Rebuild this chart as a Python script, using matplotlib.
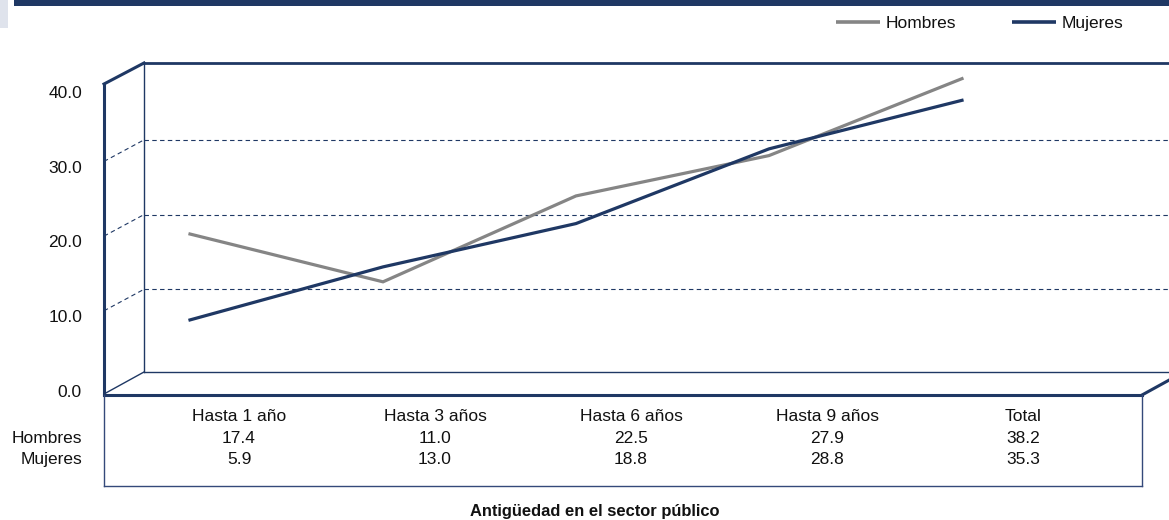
import matplotlib
matplotlib.use("Agg")
import matplotlib.pyplot as plt
from matplotlib.patches import Rectangle

plt.rcParams['font.family'] = ['Liberation Sans', 'DejaVu Sans']

# ---- data -------------------------------------------------------------
categories = ["Hasta 1 año", "Hasta 3 años", "Hasta 6 años", "Hasta 9 años", "Total"]
hombres = [17.4, 11.0, 22.5, 27.9, 38.2]
mujeres = [5.9, 13.0, 18.8, 28.8, 35.3]
series_names = ["Hombres", "Mujeres"]
y_ticks = [0, 10, 20, 30, 40]
x_title = "Antigüedad en el sector público"

# ---- style ------------------------------------------------------------
NAVY = "#1f3864"
GRAY = "#858585"
FS = 12.5

W, H = 1169, 520
fig = plt.figure(figsize=(W / 100, H / 100), dpi=100)


def frac_rect(x0, y0, x1, y1):
    """pixel box (origin top-left) -> figure fraction [l, b, w, h]"""
    return [x0 / W, 1 - y1 / H, (x1 - x0) / W, (y1 - y0) / H]


# pseudo-3D box geometry (pixels)
BX0, BTOP, BBOT = 144, 63, 372        # back wall
DX, DY = -40, 21.5                    # depth offset towards the viewer
FX = BX0 + DX                         # front axis x
FRONT_TOP, FRONT_BOT = 84, 394
TABLE_RIGHT, TABLE_BOT = 1142, 486

# value scale on the back wall: pixel_y = V0 - VS * value
V0, VS = 364.0, 7.47
# category scale: pixel_x = C0 + CS * index
C0, CS = 190.0, 193.0

# ---- decoration layer in pixel coordinates ----------------------------
deco = fig.add_axes([0, 0, 1, 1])
deco.set_xlim(0, W)
deco.set_ylim(H, 0)
deco.axis('off')

deco.add_patch(Rectangle((14, 0), W - 14, 6, color=NAVY, lw=0))
deco.add_patch(Rectangle((0, 0), 8, 28, color="#dfe3ec", lw=0))


def seg(x0, y0, x1, y1, lw, color=NAVY, **kw):
    deco.plot([x0, x1], [y0, y1], color=color, lw=lw,
              solid_capstyle='projecting', **kw)


# back wall and floor
seg(BX0, BTOP, W, BTOP, 2.0)
seg(BX0, BTOP, BX0, BBOT, 1.0)
seg(BX0, BBOT, W, BBOT, 1.0)
seg(FX, FRONT_BOT, BX0, BBOT, 1.0)
# front edges
seg(FX, FRONT_TOP, BX0, BTOP, 2.2)
seg(FX, FRONT_TOP, FX, FRONT_BOT, 2.2)
seg(FX, FRONT_BOT + 1, TABLE_RIGHT, FRONT_BOT + 1, 2.2)
seg(TABLE_RIGHT, FRONT_BOT + 1, TABLE_RIGHT + 40, FRONT_BOT + 1 - 22, 2.2)
# data table frame
seg(FX, FRONT_BOT + 1, FX, TABLE_BOT, 1.0, color="#34497a")
seg(FX, TABLE_BOT, TABLE_RIGHT, TABLE_BOT, 1.0, color="#34497a")
seg(TABLE_RIGHT, FRONT_BOT + 1, TABLE_RIGHT, TABLE_BOT, 1.0, color="#34497a")

# gridline returns on the left side wall
for v in y_ticks[1:-1]:
    yb = V0 - VS * v
    deco.plot([FX, BX0], [yb + DY, yb], color=NAVY, lw=0.8,
              linestyle=(0, (4, 3)))

# value-axis labels on the front edge
for v in y_ticks:
    deco.text(82, V0 - VS * v + DY + 11.2, f"{v:.1f}", ha='right',
              va='baseline', fontsize=FS, color="#111111")

# ---- plot area (back wall) ---------------------------------------------
ax = fig.add_axes(frac_rect(BX0, BTOP, W, BBOT))
ax.set_facecolor('none')
ax.set_ylim((V0 - BBOT) / VS, (V0 - BTOP) / VS)
ax.set_xlim((BX0 - C0) / CS, (W - C0) / CS)
for s in ax.spines.values():
    s.set_visible(False)
ax.set_yticks(y_ticks[1:-1])
ax.set_xticks([])
ax.tick_params(left=False, labelleft=False)
ax.yaxis.grid(True, color=NAVY, lw=0.8, linestyle=(0, (4, 3)))
ax.set_axisbelow(True)

x = list(range(len(categories)))
ax.plot(x, hombres, color=GRAY, lw=2.3, solid_joinstyle='miter', clip_on=False)
ax.plot(x, mujeres, color=NAVY, lw=2.3, solid_joinstyle='miter', clip_on=False)

# ---- legend -------------------------------------------------------------
legend_items = [(series_names[0], GRAY, 836), (series_names[1], NAVY, 1012)]
for name, col, lx in legend_items:
    deco.plot([lx, lx + 44], [22, 22], color=col, lw=2.6, solid_capstyle='butt')
    deco.text(lx + 50, 28, name, ha='left', va='baseline', fontsize=FS,
              color="#111111")

# ---- data table ---------------------------------------------------------
T0, TS = 239.0, 196.0
ROW_Y = [421, 443, 464]
for i, cat in enumerate(categories):
    cx = T0 + TS * i
    deco.text(cx, ROW_Y[0], cat, ha='center', va='baseline', fontsize=FS,
              color="#111111")
    deco.text(cx, ROW_Y[1], f"{hombres[i]:.1f}", ha='center', va='baseline',
              fontsize=FS, color="#111111")
    deco.text(cx, ROW_Y[2], f"{mujeres[i]:.1f}", ha='center', va='baseline',
              fontsize=FS, color="#111111")
for name, ry in zip(series_names, ROW_Y[1:]):
    deco.text(82, ry, name, ha='right', va='baseline', fontsize=FS,
              color="#111111")

deco.text(595, 516, x_title, ha='center', va='baseline', fontsize=11.9,
          fontweight='bold', color="#111111")

fig.savefig("out.png", dpi=100)
